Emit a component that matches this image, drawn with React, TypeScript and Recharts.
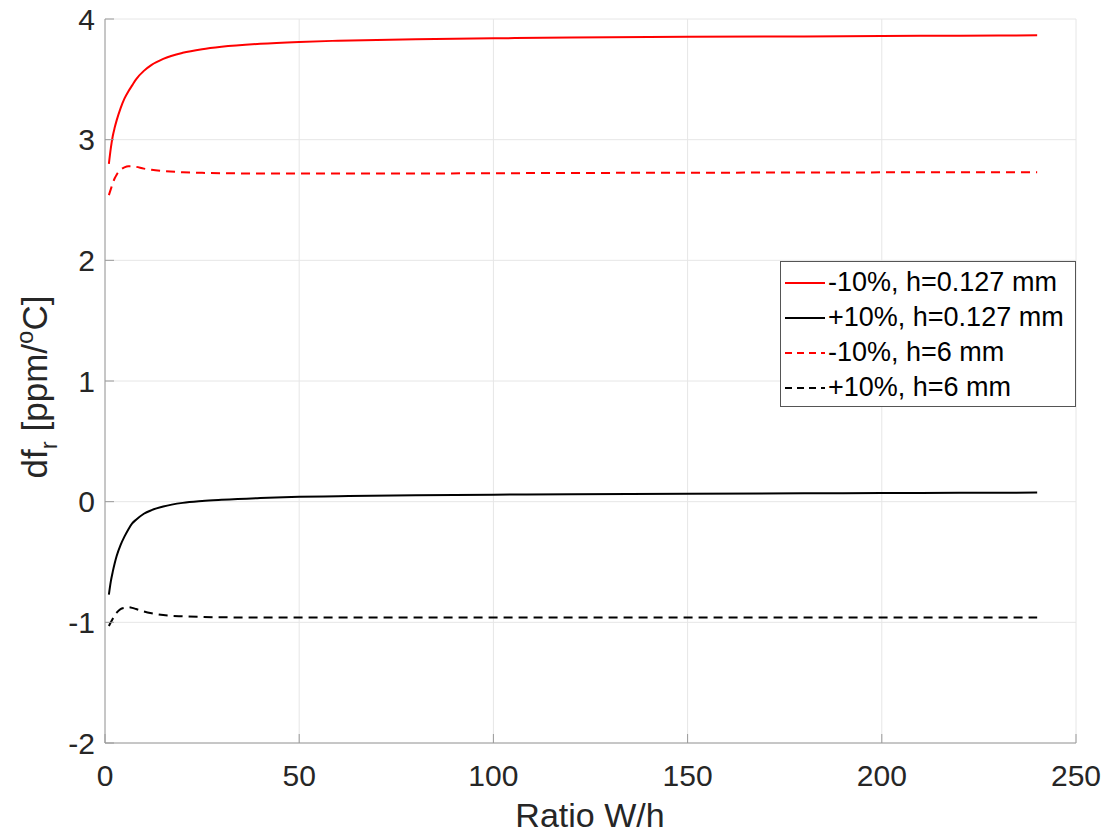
import { CartesianGrid, Legend, Line, LineChart, XAxis, YAxis } from "recharts";

// W/h ratio sampled denser near the start where the curves bend
const ratio = [1, 1.5, 2, 2.5, 3, 4, 5, 6, 7, 8, 10, 12, 15, 20, 25, 30, 40, 50, 60, 80, 100, 120, 150, 180, 200, 220, 240];

const minus127 = [2.8, 2.93, 3.03, 3.1, 3.16, 3.26, 3.34, 3.4, 3.45, 3.5, 3.57, 3.62, 3.67, 3.72, 3.75, 3.77, 3.795, 3.81, 3.82, 3.832, 3.84, 3.846, 3.852, 3.856, 3.859, 3.862, 3.865];
const plus127 = [-0.77, -0.66, -0.58, -0.51, -0.45, -0.36, -0.29, -0.23, -0.18, -0.15, -0.1, -0.07, -0.04, -0.01, 0.005, 0.015, 0.03, 0.04, 0.045, 0.053, 0.058, 0.062, 0.066, 0.069, 0.071, 0.073, 0.075];
const minus6 = [2.54, 2.59, 2.64, 2.68, 2.71, 2.75, 2.77, 2.78, 2.78, 2.775, 2.76, 2.75, 2.74, 2.73, 2.725, 2.722, 2.72, 2.72, 2.72, 2.72, 2.722, 2.724, 2.726, 2.728, 2.729, 2.73, 2.731];
const plus6 = [-1.03, -1.0, -0.97, -0.94, -0.92, -0.89, -0.88, -0.875, -0.88, -0.89, -0.91, -0.925, -0.94, -0.95, -0.955, -0.958, -0.96, -0.96, -0.96, -0.96, -0.96, -0.96, -0.96, -0.96, -0.96, -0.96, -0.96];

const xTicks = [0, 50, 100, 150, 200, 250];
const yTicks = [-2, -1, 0, 1, 2, 3, 4];

const series = [
  { key: "m127", name: "-10%, h=0.127 mm", color: "#ff0000", dash: undefined },
  { key: "p127", name: "+10%, h=0.127 mm", color: "#000000", dash: undefined },
  { key: "m6", name: "-10%, h=6 mm", color: "#ff0000", dash: "9 6" },
  { key: "p6", name: "+10%, h=6 mm", color: "#000000", dash: "9 6" },
];

const data = ratio.map((r, i) => ({
  r,
  m127: minus127[i],
  p127: plus127[i],
  m6: minus6[i],
  p6: plus6[i],
}));

const FONT = "'Liberation Sans', Arial, Helvetica, sans-serif";
const AXIS = "#9a9a9a";
const TEXT = "#262626";

function LegendBox() {
  return (
    <div
      style={{
        border: "1px solid #555",
        background: "#fff",
        width: 296,
        height: 146,
        boxSizing: "border-box",
        padding: "3px 0 0 4px",
        fontFamily: FONT,
        fontSize: 27,
        color: "#000",
      }}
    >
      {series.map((s) => (
        <div key={s.key} style={{ display: "flex", alignItems: "center", height: 35 }}>
          <svg width={40} height={4} style={{ marginRight: 3 }}>
            <line x1={0} y1={2} x2={40} y2={2} stroke={s.color} strokeWidth={2} strokeDasharray={s.dash ? "7 5" : undefined} />
          </svg>
          <span style={{ whiteSpace: "nowrap" }}>{s.name}</span>
        </div>
      ))}
    </div>
  );
}

function YLabel() {
  return (
    <text transform="translate(47, 387) rotate(-90)" textAnchor="middle" fontFamily={FONT} fontSize={35} fill={TEXT}>
      df
      <tspan fontSize={24} dy={10}>r</tspan>
      <tspan dy={-10}> [ppm/</tspan>
      <tspan fontSize={24} dy={-14}>o</tspan>
      <tspan dy={14}>C]</tspan>
    </text>
  );
}

export default function App() {
  return (
    <div style={{ position: "absolute", left: 0, top: 0, background: "#fff" }}>
      <LineChart width={1108} height={835} data={data} margin={{ top: 19, right: 32, bottom: 0, left: 0 }}>
        <CartesianGrid stroke="#e6e6e6" xAxisId="b" yAxisId="l" />
        <XAxis
          xAxisId="b"
          dataKey="r"
          type="number"
          domain={[0, 250]}
          ticks={xTicks}
          height={92}
          stroke={AXIS}
          tickSize={-9}
          tickMargin={31}
          tick={{ fill: TEXT, fontSize: 30, fontFamily: FONT }}
          label={{
            content: () => (
              <text x={590} y={827} textAnchor="middle" fontFamily={FONT} fontSize={34} fill={TEXT}>
                Ratio W/h
              </text>
            ),
          }}
        />
        <XAxis xAxisId="t" orientation="top" type="number" dataKey="r" domain={[0, 250]} ticks={xTicks} height={0} stroke={AXIS} tickSize={-9} tick={false} />
        <YAxis
          yAxisId="l"
          type="number"
          domain={[-2, 4]}
          ticks={yTicks}
          width={105}
          stroke={AXIS}
          tickSize={-9}
          tickMargin={19}
          tick={{ fill: TEXT, fontSize: 30, fontFamily: FONT }}
          label={{ content: () => <YLabel /> }}
        />
        <YAxis yAxisId="r" orientation="right" type="number" domain={[-2, 4]} ticks={yTicks} width={0} stroke={AXIS} tickSize={-9} tick={false} />
        <Legend
          layout="vertical"
          align="center"
          verticalAlign="middle"
          wrapperStyle={{ position: "absolute", left: 780, top: 261, width: 296 }}
          content={() => <LegendBox />}
        />
        {series.map((s) => (
          <Line
            key={s.key}
            xAxisId="b"
            yAxisId="l"
            dataKey={s.key}
            name={s.name}
            type="monotone"
            stroke={s.color}
            strokeWidth={2}
            strokeDasharray={s.dash}
            dot={false}
            activeDot={false}
            isAnimationActive={false}
          />
        ))}
      </LineChart>
    </div>
  );
}
